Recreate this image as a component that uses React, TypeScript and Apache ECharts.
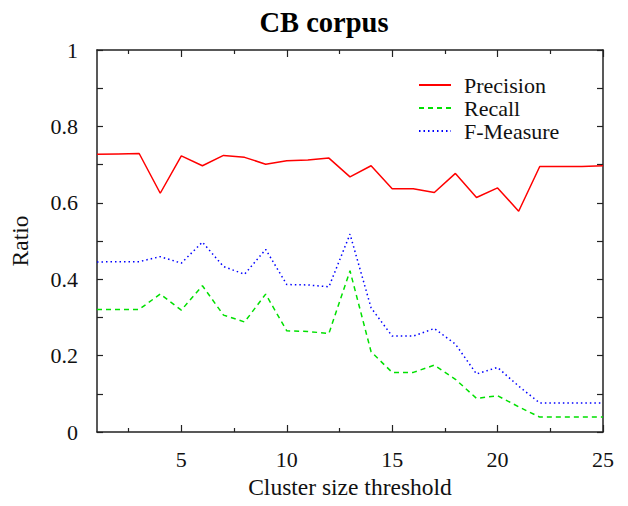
import React, { useEffect, useRef } from "react";
import * as echarts from "echarts";

const xValues = [1, 2, 3, 4, 5, 6, 7, 8, 9, 10, 11, 12, 13, 14, 15, 16, 17, 18, 19, 20, 21, 22, 23, 24, 25];
const precision = [0.727, 0.728, 0.729, 0.625, 0.723, 0.697, 0.724, 0.719, 0.701, 0.71, 0.712, 0.717, 0.668, 0.697, 0.637, 0.637, 0.627, 0.677, 0.614, 0.639, 0.578, 0.695, 0.695, 0.695, 0.697];
const recall = [0.321, 0.321, 0.321, 0.361, 0.319, 0.383, 0.306, 0.288, 0.361, 0.265, 0.263, 0.258, 0.422, 0.21, 0.156, 0.156, 0.175, 0.138, 0.088, 0.095, 0.066, 0.039, 0.039, 0.039, 0.039];
const fMeasure = [0.445, 0.446, 0.446, 0.459, 0.442, 0.497, 0.433, 0.413, 0.478, 0.386, 0.385, 0.38, 0.518, 0.325, 0.251, 0.251, 0.271, 0.23, 0.152, 0.169, 0.12, 0.076, 0.076, 0.076, 0.076];

const xMajorTicks = [5, 10, 15, 20, 25];
const xMinorTicks = [2.5, 7.5, 12.5, 17.5, 22.5];
const yTicks = [0, 0.1, 0.2, 0.3, 0.4, 0.5, 0.6, 0.7, 0.8, 0.9, 1];
const yLabels = [0, 0.2, 0.4, 0.6, 0.8, 1];

const FONT = "'Liberation Serif', 'DejaVu Serif', serif";
const AXIS_COLOR = "#222";

export default function App() {
  const ref = useRef<HTMLDivElement>(null);
  useEffect(() => {
    if (!ref.current) return;
    const chart = echarts.init(ref.current, null, { renderer: "svg" });
    const pair = (a: number[], b: number[]) => a.map((v, i) => [v, b[i]]);

    const xBase = (position: string, ticks: number[], len: number, labels: boolean, showLine: boolean) => ({
      type: "value",
      position,
      min: 1,
      max: 25,
      axisLine: { show: showLine, lineStyle: { color: AXIS_COLOR, width: 1.5 } },
      axisTick: { show: true, inside: true, length: len, customValues: ticks, lineStyle: { color: AXIS_COLOR, width: 1.2 } },
      axisLabel: labels
        ? { show: true, customValues: xMajorTicks, margin: 16, fontFamily: FONT, fontSize: 22, color: "#111" }
        : { show: false },
      splitLine: { show: false },
    });

    const yBase = (position: string, labels: boolean) => ({
      type: "value",
      position,
      min: 0,
      max: 1,
      axisLine: { show: true, lineStyle: { color: AXIS_COLOR, width: 1.5 } },
      axisTick: { show: true, inside: true, length: 6, customValues: yTicks, lineStyle: { color: AXIS_COLOR, width: 1.2 } },
      axisLabel: labels
        ? { show: true, customValues: yLabels, margin: 19, fontFamily: FONT, fontSize: 22, color: "#111" }
        : { show: false },
      splitLine: { show: false },
    });

    const xMain: any = xBase("bottom", xMajorTicks, 7, true, true);
    xMain.name = "Cluster size threshold";
    xMain.nameLocation = "middle";
    xMain.nameGap = 38;
    xMain.nameTextStyle = { fontFamily: FONT, fontSize: 23.5, color: "#111" };

    const yMain: any = yBase("left", true);
    yMain.name = "Ratio";
    yMain.nameLocation = "middle";
    yMain.nameGap = 65;
    yMain.nameTextStyle = { fontFamily: FONT, fontSize: 23.5, color: "#111" };

    chart.setOption({
      animation: false,
      backgroundColor: "#fff",
      graphic: [
        {
          type: "text",
          x: 324,
          y: 8,
          style: {
            text: "CB corpus",
            textAlign: "center",
            textVerticalAlign: "top",
            fontFamily: FONT,
            fontSize: 28.5,
            fontWeight: "bold",
            fill: "#000",
          },
        },
      ],
      grid: { left: 97, right: 25, top: 50, bottom: 74, containLabel: false },
      legend: {
        orient: "vertical",
        left: 418,
        top: 74,
        padding: 0,
        itemWidth: 32,
        itemHeight: 14,
        itemGap: 1,
        itemStyle: { opacity: 0, color: "rgba(0,0,0,0)", borderWidth: 0 },
        textStyle: { fontFamily: FONT, fontSize: 22, color: "#111", lineHeight: 20.5, padding: [0, 0, 0, 8] },
        data: ["Precision", "Recall", "F-Measure"],
      },
      xAxis: [
        xMain,
        xBase("bottom", xMinorTicks, 4, false, false),
        xBase("top", xMajorTicks, 7, false, true),
        xBase("top", xMinorTicks, 4, false, false),
      ],
      yAxis: [yMain, yBase("right", false)],
      series: [
        {
          name: "Precision",
          type: "line",
          data: pair(xValues, precision),
          symbol: "none",
          lineStyle: { color: "#ff0000", width: 1.5, type: "solid" },
          itemStyle: { color: "#ff0000" },
        },
        {
          name: "Recall",
          type: "line",
          data: pair(xValues, recall),
          symbol: "none",
          lineStyle: { color: "#00e000", width: 1.5, type: [5, 4] },
          itemStyle: { color: "#00e000" },
        },
        {
          name: "F-Measure",
          type: "line",
          data: pair(xValues, fMeasure),
          symbol: "none",
          lineStyle: { color: "#0000ff", width: 1.5, type: [1.5, 3] },
          itemStyle: { color: "#0000ff" },
        },
      ],
    });
    return () => chart.dispose();
  }, []);

  return (
    <div
      ref={ref}
      style={{ position: "fixed", left: 0, top: 0, width: 628, height: 506, background: "#fff" }}
    />
  );
}
